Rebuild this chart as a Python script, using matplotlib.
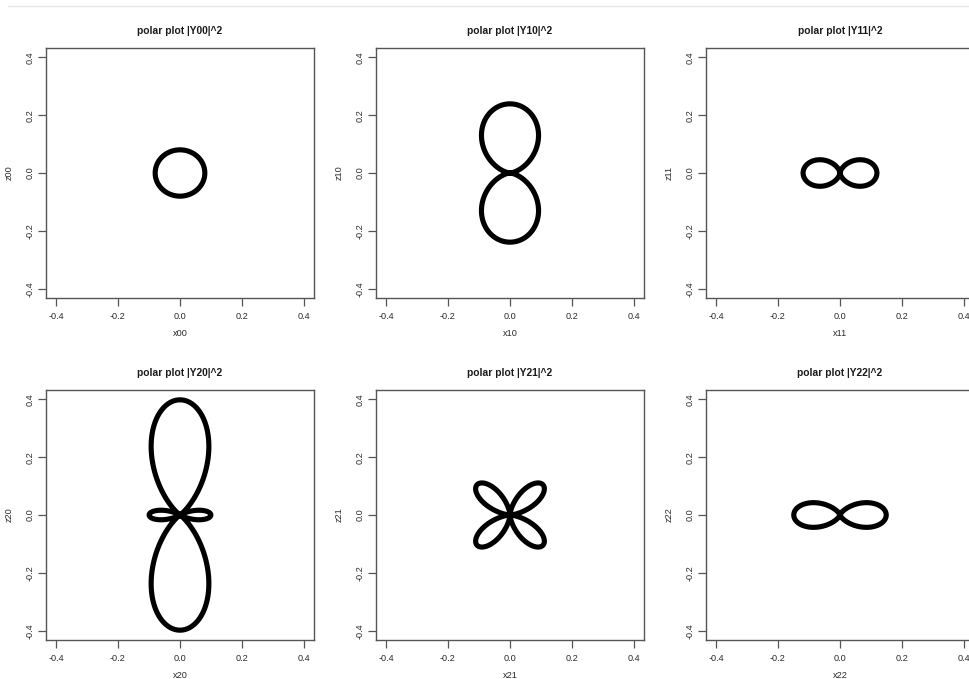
import numpy as np
import matplotlib
matplotlib.use("Agg")
import matplotlib.pyplot as plt

# Panels: name suffix (lm), peak radius of |Ylm|^2
harmonics = ["00", "10", "11", "20", "21", "22"]
peak_r = [0.080, 0.239, 0.119, 0.398, 0.149, 0.149]
ticks = [-0.4, -0.2, 0.0, 0.2, 0.4]
tick_labels = ["-0.4", "-0.2", "0.0", "0.2", "0.4"]


def angular_shape(lm, theta):
    """Normalised angular part of |Ylm|^2 (peak = 1)."""
    c, s = np.cos(theta), np.sin(theta)
    if lm == "00":
        return np.ones_like(theta)
    if lm == "10":
        return c ** 2
    if lm == "11":
        return s ** 2
    if lm == "20":
        return (3 * c ** 2 - 1) ** 2 / 4
    if lm == "21":
        return 4 * s ** 2 * c ** 2
    return s ** 4


plt.rcParams['font.family'] = ['Liberation Sans', 'DejaVu Sans']

W, H = 970, 679
fig = plt.figure(figsize=(W / 100, H / 100), dpi=100)
fig.patch.set_facecolor("white")

# faint page border at the top
fig.add_artist(plt.Line2D([8 / W, 1], [1 - 6 / H, 1 - 6 / H], color="#e6e6e6", lw=1))

col_left = [46, 376, 706]
row_top = [48, 390]
ax_w, ax_h = 268, 250
theta = np.linspace(0, 2 * np.pi, 1500, endpoint=False)

for i, (lm, rmax) in enumerate(zip(harmonics, peak_r)):
    left = col_left[i % 3]
    top = row_top[i // 3]
    ax = fig.add_axes([left / W, 1 - (top + ax_h) / H, ax_w / W, ax_h / H])

    r = rmax * angular_shape(lm, theta)
    # closed outline so there is no cap at the start/end point
    ax.fill(r * np.sin(theta), r * np.cos(theta), fill=False, edgecolor="black",
            lw=3.7, joinstyle="round")

    ax.set_xlim(-0.432, 0.432)
    ax.set_ylim(-0.432, 0.432)
    ax.set_xticks(ticks)
    ax.set_yticks(ticks)
    ax.set_xticklabels(tick_labels, fontsize=6.6, color="#2a2a2a")
    ax.set_yticklabels(tick_labels, fontsize=6.6, color="#2a2a2a", rotation=90, va="center")
    ax.tick_params(axis="x", direction="out", length=6, width=0.9, color="#555555", pad=4)
    ax.tick_params(axis="y", direction="out", length=6, width=0.9, color="#555555", pad=2.5)
    for sp in ax.spines.values():
        sp.set_color("#555555")
        sp.set_linewidth(1.0)

    ax.set_title(f"polar plot |Y{lm}|^2", fontsize=7.4, fontweight="bold", color="#1a1a1a", pad=10)
    ax.set_xlabel(f"x{lm}", fontsize=6.6, color="#2a2a2a", labelpad=6)
    ax.set_ylabel(f"z{lm}", fontsize=6.6, color="#2a2a2a", labelpad=8)

fig.savefig("out.png", dpi=100, facecolor="white")
